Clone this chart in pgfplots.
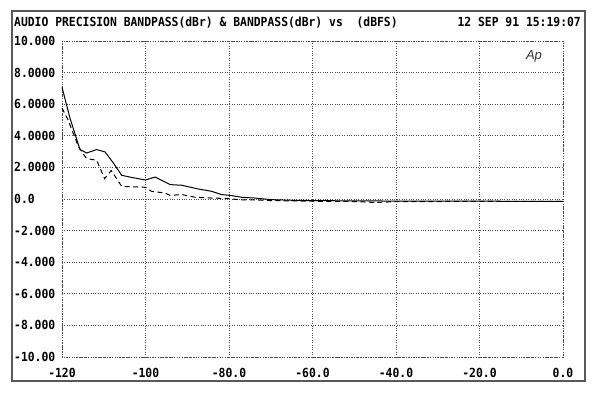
\documentclass[border=0pt]{standalone}
\usepackage{fontspec}
\usepackage{pgfplots}
\pgfplotsset{compat=1.18}
\newfontfamily\apmono[FakeStretch=0.91]{DejaVu Sans Mono Bold}
\newfontfamily\aplogo{Liberation Sans}
\newcommand{\mono}{\apmono\fontsize{12.5bp}{13bp}\selectfont}
\begin{document}
\begin{tikzpicture}
\path[use as bounding box] (0,0) rectangle (600bp,393bp);
\draw[line width=1.1bp, black!65] (12bp,12bp) rectangle (585bp,382bp);
\node[anchor=base west, inner sep=0pt, font=\mono] at (14bp,366bp) {AUDIO PRECISION BANDPASS(dBr) \& BANDPASS(dBr) vs \ (dBFS)};
\node[anchor=base east, inner sep=0pt, font=\mono] at (581bp,366bp) {12 SEP 91 15:19:07};
\begin{axis}[
  at={(62bp,36bp)}, anchor=south west,
  scale only axis, width=501bp, height=316bp,
  xmin=-120, xmax=0, ymin=-10, ymax=10,
  xtick={-120,-100,-80,-60,-40,-20,0},
  xticklabels={-120,-100,-80.0,-60.0,-40.0,-20.0,0.0},
  ytick={-10,-8,-6,-4,-2,0,2,4,6,8,10},
  yticklabels={-10.00,-8.000,-6.000,-4.000,-2.000,0.0,2.0000,4.0000,6.0000,8.0000,10.000},
  major tick length=0pt,
  grid=major,
  major grid style={dotted, black!70, line width=0.7bp},
  axis line style={dotted, black!70, line width=0.7bp},
  xticklabel style={font=\mono, anchor=base, inner sep=0pt, yshift=-20bp},
  yticklabel style={font=\mono, anchor=base west, inner sep=0pt, xshift=-48bp, yshift=-4.5bp},
  clip=false,
]
\addplot[black, line width=1bp] coordinates {
(-120,7.07) (-118.1,5.13) (-115.7,3.13) (-114.1,2.91) (-111.7,3.13) (-109.7,2.98)
(-107.7,2.28) (-105.7,1.50) (-103.4,1.37) (-100,1.20) (-97.7,1.39) (-94.1,0.91)
(-91.3,0.87) (-87.3,0.63) (-84.2,0.49) (-81.8,0.28) (-79.8,0.23) (-77,0.11)
(-73.8,0.06) (-70,-0.04) (-65,-0.08) (-60,-0.1) (-50,-0.12) (-40,-0.13) (-20,-0.14) (0,-0.15)
};
\addplot[black, line width=1bp, dash pattern=on 5bp off 3.5bp] coordinates {
(-120,5.76) (-118.6,5.03) (-116.1,3.34) (-114.5,2.70) (-114.1,2.56) (-111.7,2.45)
(-109.8,1.29) (-108.2,1.80) (-105.7,0.80) (-100,0.74) (-98.6,0.49) (-95.4,0.38)
(-94.1,0.23) (-91.3,0.28) (-88.1,0.11) (-84.2,0.06) (-80.2,0.03) (-77,-0.06)
(-73.8,-0.06) (-70,-0.1) (-60,-0.14) (-50,-0.16) (-45,-0.22) (-40,-0.17) (-20,-0.15) (0,-0.15)
};
\node[font=\aplogo\itshape\fontsize{13bp}{13bp}\selectfont, text=black!80, anchor=east] at (rel axis cs:0.965,0.95) {Ap};
\end{axis}
\end{tikzpicture}
\end{document}
